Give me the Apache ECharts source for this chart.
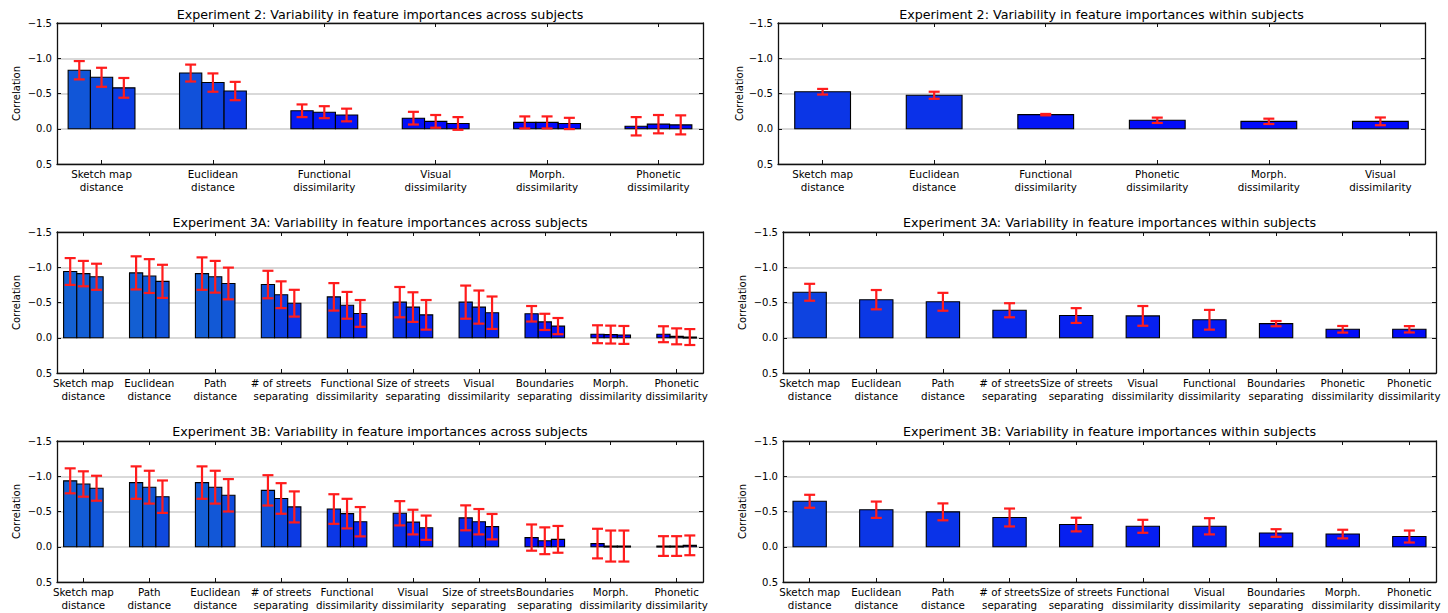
<!DOCTYPE html>
<html>
<head>
<meta charset="utf-8">
<script src="https://cdn.jsdelivr.net/npm/echarts@6/dist/echarts.min.js"></script>
<style>
html,body{margin:0;padding:0;background:#fff;}
#chart{width:1448px;height:613px;}
</style>
</head>
<body>
<div id="chart"></div>
<script>
// ---------- DATA ----------
const exp2AcrossCats = ["Sketch map\ndistance","Euclidean\ndistance","Functional\ndissimilarity","Visual\ndissimilarity","Morph.\ndissimilarity","Phonetic\ndissimilarity"];
const exp2AcrossVals = [[-0.83,-0.73,-0.58],[-0.79,-0.655,-0.535],[-0.255,-0.235,-0.195],[-0.15,-0.105,-0.075],[-0.09,-0.09,-0.075],[-0.035,-0.065,-0.055]];
const exp2AcrossErr  = [[0.13,0.135,0.14],[0.12,0.13,0.13],[0.09,0.085,0.09],[0.09,0.09,0.09],[0.085,0.085,0.08],[0.13,0.13,0.135]];

const exp2WithinCats = ["Sketch map\ndistance","Euclidean\ndistance","Functional\ndissimilarity","Phonetic\ndissimilarity","Morph.\ndissimilarity","Visual\ndissimilarity"];
const exp2WithinVals = [-0.525,-0.475,-0.2,-0.12,-0.105,-0.105];
const exp2WithinErr  = [0.04,0.05,0.01,0.038,0.038,0.055];

const exp3aAcrossCats = ["Sketch map\ndistance","Euclidean\ndistance","Path\ndistance","# of streets\nseparating","Functional\ndissimilarity","Size of streets\nseparating","Visual\ndissimilarity","Boundaries\nseparating","Morph.\ndissimilarity","Phonetic\ndissimilarity"];
const exp3aAcrossVals = [[-0.94,-0.91,-0.865],[-0.92,-0.875,-0.80],[-0.91,-0.865,-0.77],[-0.755,-0.61,-0.49],[-0.58,-0.46,-0.345],[-0.505,-0.435,-0.325],[-0.505,-0.435,-0.355],[-0.34,-0.225,-0.165],[-0.05,-0.045,-0.04],[-0.05,-0.02,-0.01]];
const exp3aAcrossErr  = [[0.19,0.18,0.185],[0.235,0.24,0.235],[0.23,0.225,0.225],[0.195,0.19,0.19],[0.195,0.19,0.19],[0.215,0.21,0.21],[0.235,0.235,0.23],[0.11,0.115,0.115],[0.127,0.127,0.127],[0.113,0.113,0.113]];

const exp3aWithinCats = ["Sketch map\ndistance","Euclidean\ndistance","Path\ndistance","# of streets\nseparating","Size of streets\nseparating","Visual\ndissimilarity","Functional\ndissimilarity","Boundaries\nseparating","Phonetic\ndissimilarity","Phonetic\ndissimilarity"];
const exp3aWithinVals = [-0.645,-0.54,-0.51,-0.39,-0.315,-0.31,-0.255,-0.2,-0.12,-0.12];
const exp3aWithinErr  = [0.12,0.137,0.127,0.1,0.105,0.14,0.14,0.037,0.047,0.045];

const exp3bAcrossCats = ["Sketch map\ndistance","Path\ndistance","Euclidean\ndistance","# of streets\nseparating","Functional\ndissimilarity","Visual\ndissimilarity","Size of streets\nseparating","Boundaries\nseparating","Morph.\ndissimilarity","Phonetic\ndissimilarity"];
const exp3bAcrossVals = [[-0.935,-0.89,-0.83],[-0.91,-0.845,-0.71],[-0.91,-0.845,-0.73],[-0.80,-0.685,-0.565],[-0.535,-0.47,-0.355],[-0.475,-0.35,-0.27],[-0.41,-0.355,-0.285],[-0.13,-0.085,-0.105],[-0.045,-0.01,-0.01],[-0.01,-0.01,-0.02]];
const exp3bAcrossErr  = [[0.177,0.18,0.177],[0.23,0.233,0.23],[0.23,0.233,0.23],[0.215,0.217,0.22],[0.21,0.21,0.208],[0.172,0.175,0.172],[0.177,0.18,0.18],[0.186,0.19,0.19],[0.21,0.22,0.22],[0.14,0.14,0.14]];

const exp3bWithinCats = ["Sketch map\ndistance","Euclidean\ndistance","Path\ndistance","# of streets\nseparating","Size of streets\nseparating","Functional\ndissimilarity","Visual\ndissimilarity","Boundaries\nseparating","Morph.\ndissimilarity","Phonetic\ndissimilarity"];
const exp3bWithinVals = [-0.645,-0.525,-0.495,-0.415,-0.315,-0.29,-0.29,-0.195,-0.18,-0.145];
const exp3bWithinErr  = [0.092,0.116,0.12,0.127,0.097,0.092,0.115,0.054,0.061,0.085];

const yTickMin = -1.5, yTickMax = 0.5, yTickStep = 0.5;

const titles = [
  "Experiment 2: Variability in feature importances across subjects",
  "Experiment 2: Variability in feature importances within subjects",
  "Experiment 3A: Variability in feature importances across subjects",
  "Experiment 3A: Variability in feature importances within subjects",
  "Experiment 3B: Variability in feature importances across subjects",
  "Experiment 3B: Variability in feature importances within subjects"
];

// ---------- LAYOUT / STYLE ----------
const FONT = "'DejaVu Sans', 'Bitstream Vera Sans', sans-serif";
const panels = [
  {cats: exp2AcrossCats, vals: exp2AcrossVals, errs: exp2AcrossErr, grouped: true,  left: 57,  top: 23,  width: 646, height: 141, titleTop: 7,   nameGap: 36},
  {cats: exp2WithinCats, vals: exp2WithinVals, errs: exp2WithinErr, grouped: false, left: 778, top: 23,  width: 647, height: 141, titleTop: 7,   nameGap: 34},
  {cats: exp3aAcrossCats, vals: exp3aAcrossVals, errs: exp3aAcrossErr, grouped: true,  left: 57,  top: 232, width: 646, height: 141, titleTop: 215, nameGap: 36},
  {cats: exp3aWithinCats, vals: exp3aWithinVals, errs: exp3aWithinErr, grouped: false, left: 783, top: 232, width: 653, height: 141, titleTop: 215, nameGap: 36},
  {cats: exp3bAcrossCats, vals: exp3bAcrossVals, errs: exp3bAcrossErr, grouped: true,  left: 57,  top: 441, width: 646, height: 141, titleTop: 424, nameGap: 36},
  {cats: exp3bWithinCats, vals: exp3bWithinVals, errs: exp3bWithinErr, grouped: false, left: 783, top: 441, width: 653, height: 141, titleTop: 424, nameGap: 36}
];

function barColor(v) {
  const t = Math.max(0, Math.min(1, Math.abs(v) / 0.95));
  const r = Math.round(20 * t), g = Math.round(98 * t), b = Math.round(255 - 45 * t);
  return 'rgb(' + r + ',' + g + ',' + b + ')';
}
const ERR_COLOR = '#ff1c1c';
const FRAME = {color: '#111', width: 1.3};

function barRender(params, api) {
  const x = api.value(0), v = api.value(1), w = api.value(2);
  const p0 = api.coord([x - w / 2, 0]);
  const p1 = api.coord([x + w / 2, v]);
  return {
    type: 'rect',
    shape: {x: Math.min(p0[0], p1[0]), y: Math.min(p0[1], p1[1]), width: Math.abs(p1[0] - p0[0]), height: Math.max(1, Math.abs(p1[1] - p0[1]))},
    style: {fill: barColor(v), stroke: '#000', lineWidth: 1.1}
  };
}
function errRender(params, api) {
  const x = api.value(0), v = api.value(1), e = api.value(2);
  const a = api.coord([x, v - e]);
  const b = api.coord([x, v + e]);
  const cap = 5.5;
  const st = {stroke: ERR_COLOR, lineWidth: 2.2};
  return {type: 'group', children: [
    {type: 'line', shape: {x1: a[0], y1: a[1], x2: b[0], y2: b[1]}, style: st},
    {type: 'line', shape: {x1: a[0] - cap, y1: a[1], x2: a[0] + cap, y2: a[1]}, style: st},
    {type: 'line', shape: {x1: b[0] - cap, y1: b[1], x2: b[0] + cap, y2: b[1]}, style: st}
  ]};
}
function yLabel(v) {
  const s = Math.abs(v).toFixed(1);
  return v < -1e-9 ? '\u2212' + s : s;
}

const option = {
  backgroundColor: '#fff',
  animation: false,
  title: [], grid: [], xAxis: [], yAxis: [], series: []
};

panels.forEach((p, i) => {
  const n = p.cats.length;
  const idx = p.cats.map((_, k) => k);
  option.title.push({
    text: titles[i], left: p.left + p.width / 2, top: p.titleTop, textAlign: 'center', padding: 0,
    textStyle: {fontFamily: FONT, fontSize: 12.7, fontWeight: 'normal', color: '#000', lineHeight: 15}
  });
  option.grid.push({left: p.left, top: p.top, width: p.width, height: p.height, containLabel: false});
  const xBase = {
    type: 'value', gridIndex: i, min: -0.4, max: n - 0.6,
    splitLine: {show: false},
    axisLine: {show: true, onZero: false, lineStyle: FRAME}
  };
  option.xAxis.push(Object.assign({}, xBase, {
    position: 'bottom',
    axisTick: {show: true, inside: true, length: 4, customValues: idx, lineStyle: {color: '#111'}},
    axisLabel: {show: true, customValues: idx, formatter: v => p.cats[Math.round(v)],
      fontFamily: FONT, fontSize: 10.3, lineHeight: 12.5, color: '#000', margin: 4}
  }));
  option.xAxis.push(Object.assign({}, xBase, {
    position: 'top',
    axisTick: {show: true, inside: true, length: 4, customValues: idx, lineStyle: {color: '#111'}},
    axisLabel: {show: false}
  }));
  const yBase = {
    type: 'value', gridIndex: i, inverse: true, min: yTickMin, max: yTickMax, interval: yTickStep,
    axisLine: {show: true, onZero: false, lineStyle: FRAME},
    axisTick: {show: true, inside: true, length: 4, lineStyle: {color: '#111'}}
  };
  option.yAxis.push(Object.assign({}, yBase, {
    position: 'left',
    name: 'Correlation', nameLocation: 'middle', nameGap: p.nameGap, nameRotate: 90,
    nameTextStyle: {fontFamily: FONT, fontSize: 10, color: '#000'},
    axisLabel: {formatter: yLabel, fontFamily: FONT, fontSize: 10, color: '#000', margin: 5},
    splitLine: {show: true, lineStyle: {color: '#cdcdcd', width: 1.6}}
  }));
  option.yAxis.push(Object.assign({}, yBase, {
    position: 'right', axisLabel: {show: false}, splitLine: {show: false}
  }));

  const barData = [], errData = [];
  if (p.grouped) {
    p.vals.forEach((grp, k) => {
      grp.forEach((v, j) => {
        const x = k + (j - 1) * 0.2;
        barData.push([x, v, 0.2]);
        errData.push([x, v, p.errs[k][j]]);
      });
    });
  } else {
    p.vals.forEach((v, k) => {
      barData.push([k, v, 0.5]);
      errData.push([k, v, p.errs[k]]);
    });
  }
  option.series.push({type: 'custom', xAxisIndex: 2 * i, yAxisIndex: 2 * i, renderItem: barRender,
    data: barData, encode: {x: 0, y: 1}, z: 2, silent: true, clip: false});
  option.series.push({type: 'custom', xAxisIndex: 2 * i, yAxisIndex: 2 * i, renderItem: errRender,
    data: errData, encode: {x: 0, y: 1}, z: 3, silent: true, clip: false});
});

const chart = echarts.init(document.getElementById('chart'), null, {renderer: 'svg'});
chart.setOption(option);
</script>
</body>
</html>
